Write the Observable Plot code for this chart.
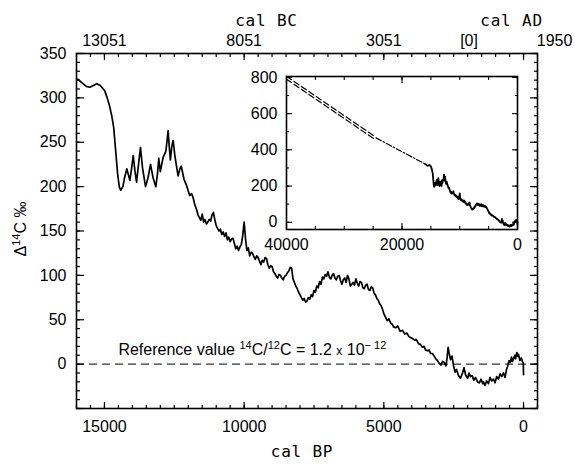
<!DOCTYPE html>
<html><head><meta charset="utf-8">
<script src="https://cdn.jsdelivr.net/npm/d3@7"></script>
<script src="https://cdn.jsdelivr.net/npm/@observablehq/plot@0.6"></script>
<style>
body{margin:0;background:#fff;}
#wrap{position:relative;width:575px;height:464px;}
#wrap svg{position:absolute;left:0;top:0;}
</style></head><body><div id="wrap"></div>
<script>
// Main record: calendar age (cal BP) and Δ14C (‰)
const calBP = [15950,15800,15650,15520,15400,15270,15150,14990,14900,14810,14740,14670,14600,14530,14470,14420,14340,14280,14200,14140,14090,14030,13970,13910,13850,13780,13710,13640,13530,13440,13350,13260,13160,13100,13055,13000,12900,12800,12720,12680,12640,12590,12540,12480,12365,12300,12250,12150,12070,11950,11880,11830,11770,11700,11650,11600,11550,11500,11450,11400,11350,11300,11250,11200,11150,11100,11050,11000,10950,10900,10850,10800,10750,10700,10650,10600,10550,10500,10450,10400,10350,10300,10250,10200,10150,10100,10050,10000,9950,9900,9850,9800,9750,9700,9650,9600,9550,9500,9450,9400,9350,9300,9250,9200,9150,9100,9050,9000,8950,8900,8850,8800,8750,8700,8650,8600,8550,8500,8450,8400,8350,8300,8250,8200,8150,8100,8050,8000,7950,7900,7850,7800,7750,7700,7650,7600,7550,7500,7450,7400,7350,7300,7250,7200,7150,7100,7050,7000,6950,6900,6850,6800,6750,6700,6650,6600,6550,6500,6450,6400,6350,6300,6250,6200,6150,6100,6050,6000,5950,5900,5850,5800,5750,5700,5650,5600,5550,5500,5450,5400,5350,5300,5250,5200,5150,5100,5050,5000,4940,4880,4820,4750,4700,4653,4580,4500,4420,4331,4250,4180,4100,4045,3980,3900,3840,3760,3686,3620,3560,3507,3440,3380,3328,3260,3200,3140,3078,3020,2960,2899,2840,2780,2740,2700,2660,2613,2560,2505,2450,2400,2326,2260,2183,2130,2076,2000,1950,1897,1840,1780,1720,1646,1580,1520,1460,1432,1380,1320,1253,1200,1140,1074,1020,960,895,840,780,716,660,610,573,520,470,430,394,350,310,286,240,200,179,130,80,36,10,0];
const delta14C = [321,317,313,312,314,316,314,308,300,290,280,267,241,215,200,196,200,210,220,213,207,220,235,218,205,225,244,222,200,210,225,210,200,215,232,217,233,240,263,245,230,245,252,235,212,220,223,208,202,190,192,188,180,174,168,165,162,169,160,163,158,160,163,161,168,171,163,156,153,150,152,146,149,144,148,140,143,138,141,142,136,130,133,128,132,135,145,160,141,128,131,122,126,125,121,118,122,120,116,112,117,115,120,119,112,108,111,110,104,102,99,97,101,100,97,95,99,100,103,105,109,108,96,92,88,85,81,78,75,72,74,70,71,75,73,78,76,83,81,88,86,93,90,98,96,101,99,104,98,96,100,102,97,95,99,100,94,90,95,97,92,100,96,88,90,92,89,96,91,88,93,92,86,85,89,90,84,83,87,86,80,78,74,72,68,66,62,57,53,49,51,46,45,42,41,43,37,38,34,35,31,30,29,27,28,23,22,19,20,16,15,16,12,12,9,6,4,1,-1,3,2,-2,6,19,12,5,9,-2,-9,-6,-13,-16,-10,-4,-12,-16,-10,-14,-13,-18,-15,-20,-21,-17,-22,-20,-24,-19,-22,-15,-19,-17,-21,-14,-17,-11,-14,-10,-15,-6,-3,4,2,8,3,7,10,6,13,9,11,4,7,3,1,-12,-26];

// Inset extrapolation segments
const extrapUpperBP = [40000, 24900];
const extrapUpperVal = [806, 478];
const extrapLowerBP = [40000, 24900];
const extrapLowerVal = [790, 462];
const extrapSingleBP = [24500, 15950];
const extrapSingleVal = [466, 321];

// Axis tick values and labels
const bottomTicks = [15000, 10000, 5000, 0];
const topTickPos = [15000, 10000, 5000, 1950, 0];
const topTickLabels = ["13051", "8051", "3051", "[0]", "1950"];
const yTicks = [0, 50, 100, 150, 200, 250, 300, 350];
const insetXTicks = [40000, 20000, 0];
const insetYTicks = [0, 200, 400, 600, 800];
const refLabel = "Reference value 14C/12C = 1.2 x 10-12";
const refLabelBP = 14500;

const record = calBP.map((d, i) => ({bp: d, v: delta14C[i]}));
const seg = (xs, ys) => xs.map((d, i) => ({bp: d, v: ys[i]}));

const numFont = "'Liberation Sans', Arial, sans-serif";
const monoFont = "'DejaVu Sans Mono', monospace";
const fmt = d => String(d);
const blank = () => "";

const minorX = d3.range(-500, 16001, 500);
const majorX = d3.range(0, 16001, 5000);
const minorY = d3.range(-50, 351, 10);
const majorY = d3.range(-50, 351, 50);

const tk = (scale, ticks, anchor, size, sw) =>
  (scale === "x" ? Plot.axisX : Plot.axisY)(ticks, {anchor, tickSize: size, tickFormat: blank, label: null, strokeWidth: sw});

const main = Plot.plot({
  width: 575, height: 464,
  marginLeft: 76, marginRight: 38, marginTop: 53, marginBottom: 56,
  style: {fontFamily: numFont, fontSize: "16px", background: "transparent"},
  x: {domain: [16000, -500], label: null},
  y: {domain: [-50, 350], label: null},
  marks: [
    Plot.ruleY([0], {stroke: "#333", strokeWidth: 1.2, strokeDasharray: "8,5"}),
    Plot.line(record, {x: "bp", y: "v", stroke: "#000", strokeWidth: 1.7}),
    tk("x", minorX, "bottom", -3, 1.2), tk("x", majorX, "bottom", -6, 1.2),
    tk("x", minorX, "top", -3, 1.2), tk("x", majorX, "top", -6, 1.2),
    tk("y", minorY, "left", -4, 1.2), tk("y", majorY, "left", -8, 1.2),
    tk("y", minorY, "right", -4, 1.2), tk("y", majorY, "right", -8, 1.2),
    Plot.axisX(bottomTicks, {anchor: "bottom", tickSize: 0, tickPadding: 12, fontSize: 16, label: null, tickFormat: fmt}),
    Plot.axisX(topTickPos.slice(0, 4), {anchor: "top", tickSize: 0, tickPadding: 8, fontSize: 16, label: null,
      tickFormat: d => topTickLabels[topTickPos.indexOf(d)]}),
    Plot.axisX(topTickPos.slice(4), {anchor: "top", tickSize: 0, tickPadding: 8, fontSize: 16, label: null, dx: 31,
      tickFormat: d => topTickLabels[topTickPos.indexOf(d)]}),
    Plot.axisY(yTicks, {anchor: "left", tickSize: 0, tickPadding: 10, fontSize: 16, label: null, tickFormat: fmt}),
    Plot.frame({stroke: "#000", strokeWidth: 1.6}),
    Plot.text([refLabel], {x: () => refLabelBP, y: () => 0, text: d => d, dy: -14, textAnchor: "start", fontSize: 16}),
    Plot.text(["cal BP"], {frameAnchor: "bottom", dx: -5, dy: 48, fontFamily: monoFont, fontSize: 16}),
    Plot.text(["cal BC"], {x: () => 9200, frameAnchor: "top", dy: -39, fontFamily: monoFont, fontSize: 16}),
    Plot.text(["cal AD"], {x: () => 430, frameAnchor: "top", dy: -39, fontFamily: monoFont, fontSize: 16}),
    Plot.text(["Δ14C ‰"], {frameAnchor: "left", textAnchor: "middle", dx: -56, dy: -2, rotate: -90, fontSize: 16})
  ]
});

const minorIX = d3.range(0, 40001, 5000);
const majorIX = d3.range(0, 40001, 20000);
const minorIY = d3.range(0, 801, 100);
const majorIY = d3.range(0, 801, 200);

const inset = Plot.plot({
  width: 575, height: 464,
  marginLeft: 286, marginRight: 58, marginTop: 76, marginBottom: 235,
  style: {fontFamily: numFont, fontSize: "16px", background: "transparent"},
  x: {domain: [40000, 0], label: null},
  y: {domain: [-40, 805], label: null},
  marks: [
    Plot.line(seg(extrapUpperBP, extrapUpperVal), {x: "bp", y: "v", stroke: "#000", strokeWidth: 1.2, strokeDasharray: "6,3"}),
    Plot.line(seg(extrapLowerBP, extrapLowerVal), {x: "bp", y: "v", stroke: "#000", strokeWidth: 1.2, strokeDasharray: "6,3"}),
    Plot.line(seg(extrapSingleBP, extrapSingleVal), {x: "bp", y: "v", stroke: "#000", strokeWidth: 1.2, strokeDasharray: "6,2,1.5,2"}),
    Plot.line(record, {x: "bp", y: "v", stroke: "#000", strokeWidth: 1.8}),
    tk("x", minorIX, "bottom", -3, 1.1), tk("x", majorIX, "bottom", -6, 1.1),
    tk("x", minorIX, "top", -3, 1.1), tk("x", majorIX, "top", -6, 1.1),
    tk("y", minorIY, "left", -3, 1.1), tk("y", majorIY, "left", -6, 1.1),
    tk("y", minorIY, "right", -3, 1.1), tk("y", majorIY, "right", -6, 1.1),
    Plot.axisX(insetXTicks, {anchor: "bottom", tickSize: 0, tickPadding: 9, fontSize: 16, label: null, tickFormat: fmt}),
    Plot.axisY(insetYTicks, {anchor: "left", tickSize: 0, tickPadding: 9, fontSize: 16, label: null, tickFormat: fmt}),
    Plot.frame({stroke: "#000", strokeWidth: 1.6})
  ]
});

const wrap = document.getElementById("wrap");
wrap.appendChild(main);
wrap.appendChild(inset);

// slight letter spacing for the monospace titles
d3.select(main).selectAll("text").filter(function(){ return ["cal BP","cal BC","cal AD"].includes(this.textContent); })
  .attr("letter-spacing", "0.8px");

// superscripts in the reference label and y title
d3.select(main).selectAll("text").filter(function(){ return this.textContent === refLabel; }).each(function(){
  const t = d3.select(this).text(null);
  const parts = [["Reference value ", 16, 0], ["14", 11, -6], ["C/", 16, 6], ["12", 11, -6], ["C = 1.2 ", 16, 6], ["x", 12, 0], [" 10", 16, 0], ["− 12", 11, -6]];
  parts.forEach(([s, fs, dy]) => t.append("tspan").attr("font-size", fs).attr("dy", dy).text(s));
});
d3.select(main).selectAll("text").filter(function(){ return this.textContent === "Δ14C ‰"; }).each(function(){
  const t = d3.select(this).text(null);
  const parts = [["Δ", 16, 0], ["14", 11, -6], ["C ‰", 16, 6]];
  parts.forEach(([s, fs, dy]) => t.append("tspan").attr("font-size", fs).attr("dy", dy).text(s));
});
</script>
</body></html>
